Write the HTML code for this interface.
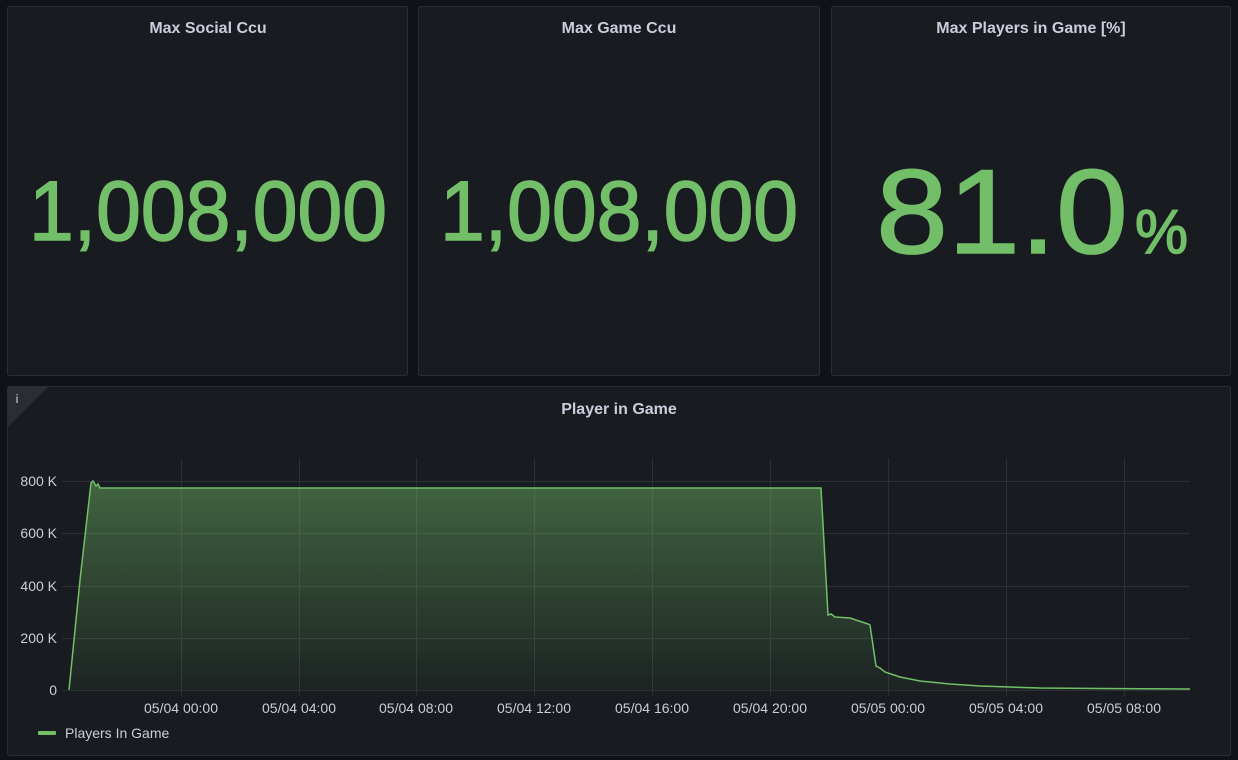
<!DOCTYPE html>
<html><head><meta charset="utf-8"><style>
body{margin:0;background:#111217;width:1238px;height:760px;overflow:hidden;font-family:"Liberation Sans",sans-serif;}
svg{display:block}
</style></head><body>
<svg width="1238" height="760" viewBox="0 0 1238 760" xmlns="http://www.w3.org/2000/svg" font-family="Liberation Sans, sans-serif">
<defs><linearGradient id="g" x1="0" y1="0" x2="0" y2="1"><stop offset="0" stop-color="#73bf69" stop-opacity="0.45"/><stop offset="1" stop-color="#73bf69" stop-opacity="0.05"/></linearGradient></defs>
<g fill="#181b1f" stroke="#2a2d33">
<rect x="7.5" y="6.5" width="400" height="369" rx="2"/>
<rect x="418.5" y="6.5" width="401" height="369" rx="2"/>
<rect x="831.5" y="6.5" width="399" height="369" rx="2"/>
<rect x="7.5" y="386.5" width="1223" height="369" rx="2"/>
</g>
<polygon points="8,387 48,387 8,427" fill="#2a2d33"/>
<text x="17" y="403" font-size="12" fill="#8e9fb8" font-weight="bold" text-anchor="middle">i</text>
<g fill="#ccccdc" font-size="16" font-weight="bold" text-anchor="middle">
<text x="208" y="33">Max Social Ccu</text>
<text x="619" y="33">Max Game Ccu</text>
<text x="1031" y="33">Max Players in Game [%]</text>
<text x="619" y="414">Player in Game</text>
</g>
<g fill="#73bf69" stroke="#73bf69" stroke-width="1.5">
<text x="29" y="240" font-size="84" textLength="358" lengthAdjust="spacingAndGlyphs">1,008,000</text>
<text x="440" y="240" font-size="84" textLength="358" lengthAdjust="spacingAndGlyphs">1,008,000</text>
<text x="876" y="253" font-size="120" textLength="252" lengthAdjust="spacingAndGlyphs">81.0</text>
<text x="1135" y="253" font-size="62" textLength="53" lengthAdjust="spacingAndGlyphs">%</text>
</g>
<g stroke="#2c2f35" stroke-width="1">
<line x1="62" y1="481.5" x2="1190" y2="481.5"/><line x1="62" y1="533.5" x2="1190" y2="533.5"/>
<line x1="62" y1="586.5" x2="1190" y2="586.5"/><line x1="62" y1="638.5" x2="1190" y2="638.5"/>
<line x1="62" y1="690.5" x2="1190" y2="690.5"/>
<line x1="181.5" y1="458" x2="181.5" y2="696"/><line x1="299.5" y1="458" x2="299.5" y2="696"/>
<line x1="416.5" y1="458" x2="416.5" y2="696"/><line x1="534.5" y1="458" x2="534.5" y2="696"/>
<line x1="652.5" y1="458" x2="652.5" y2="696"/><line x1="770.5" y1="458" x2="770.5" y2="696"/>
<line x1="888.5" y1="458" x2="888.5" y2="696"/><line x1="1006.5" y1="458" x2="1006.5" y2="696"/>
<line x1="1124.5" y1="458" x2="1124.5" y2="696"/>
</g>
<g fill="#ccccdc" font-size="14" text-anchor="end">
<text x="57" y="486">800 K</text><text x="57" y="538">600 K</text><text x="57" y="591">400 K</text><text x="57" y="643">200 K</text><text x="57" y="695">0</text>
</g>
<g fill="#ccccdc" font-size="14" text-anchor="middle">
<text x="181" y="713">05/04 00:00</text><text x="299" y="713">05/04 04:00</text><text x="416" y="713">05/04 08:00</text>
<text x="534" y="713">05/04 12:00</text><text x="652" y="713">05/04 16:00</text><text x="770" y="713">05/04 20:00</text>
<text x="888" y="713">05/05 00:00</text><text x="1006" y="713">05/05 04:00</text><text x="1124" y="713">05/05 08:00</text>
</g>
<path d="M69,690 L80,580 L91,483 L93,481 L96,486 L98,484 L100,488 L300,488 L500,488 L821,488 L828,615 L831,614 L835,617 L850,618 L868,624 L870,625 L876,666 L880,668 L885,672 L900,677 L920,681 L950,684 L980,686 L1040,688 L1100,688.5 L1190,689 L1190,690 L69,690 Z" fill="url(#g)"/>
<polyline points="69,690 80,580 91,483 93,481 96,486 98,484 100,488 300,488 500,488 821,488 828,615 831,614 835,617 850,618 868,624 870,625 876,666 880,668 885,672 900,677 920,681 950,684 980,686 1040,688 1100,688.5 1190,689" fill="none" stroke="#73bf69" stroke-width="1.5"/>
<rect x="38" y="731" width="18" height="4" rx="1" fill="#73bf69"/>
<text x="65" y="738" font-size="14" fill="#ccccdc">Players In Game</text>
</svg>
</body></html>
